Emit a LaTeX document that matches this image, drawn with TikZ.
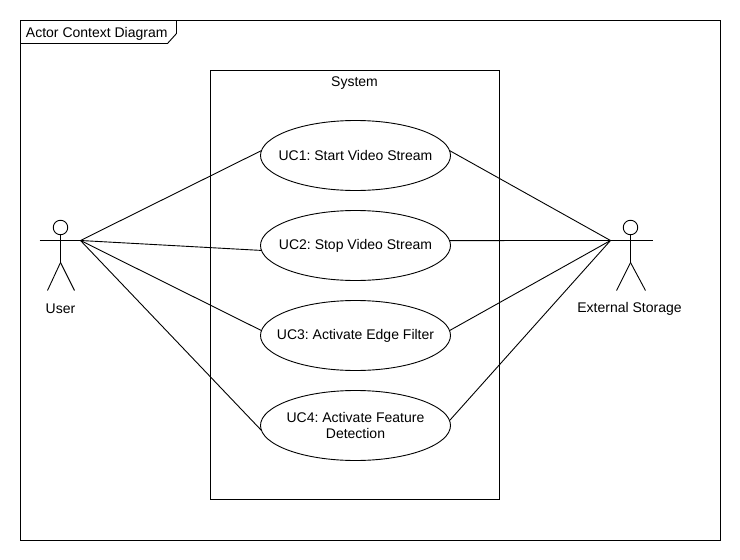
\documentclass[tikz,border=0pt]{standalone}
\usepackage{fontspec}
\setmainfont{Liberation Sans}
\usetikzlibrary{positioning, shapes.geometric}
\frenchspacing

\begin{document}
\begin{tikzpicture}[x=1pt, y=-1pt, line width=0.9pt]
      \tikzstyle{usecase}=[ellipse, draw, inner sep=0pt, outer sep=0pt, minimum width=190pt, minimum height=70pt, align=center, font=\fontsize{14}{16}\selectfont]
      \tikzstyle{boxframe}=[rectangle, draw, inner sep=0pt, outer sep=0pt]
      \tikzstyle{label}=[inner sep=0pt, font=\fontsize{14}{16}\selectfont]
      \tikzstyle{head}=[circle, draw, inner sep=0pt, outer sep=0pt, minimum size=14.5pt]
      \useasboundingbox (-0.5,-0.5) rectangle (739.5,559.5);
      % frame and its tab
      \node[boxframe, minimum width=700pt, minimum height=520pt] (frame) at (370,280) {};
      \node[label, anchor=west] (title) at (25,33) {Actor Context Diagram};
      \draw (frame.north west) ++(156,0) coordinate (tabtop) -- ++(0,13) -- ++(-9,10) -- ++(-147,0);
      % system box
      \node[boxframe, minimum width=289pt, minimum height=429pt] (system) at (354.5,284.5) {};
      \node[label] (systemlabel) at (354,83) {System};
      % use cases
      \node[usecase] (uc1) at (355,155) {\makebox[0pt]{UC1: Start Video Stream}};
      \node[usecase, below=20pt of uc1] (uc2) {\makebox[0pt]{UC2: Stop Video Stream}};
      \node[usecase, below=20pt of uc2] (uc3) {\makebox[0pt]{UC3: Activate Edge Filter}};
      \node[usecase, below=20pt of uc3] (uc4) {\makebox[0pt]{UC4: Activate Feature}\\\makebox[0pt]{Detection}};
      % user
      \node[head] (userhead) at (60,227) {};
      \coordinate (userhand) at (80,240);
      \draw (39,240) -- (userhand);
      \draw (userhead) -- ++(0,35) coordinate (userhip) -- ++(-13,28);
      \draw (userhip) -- ++(14,28);
      \node[label] (userlabel) at (60,308) {User};
      % external storage
      \node[head] (storagehead) at (630,227) {};
      \coordinate (storagehand) at (610,240);
      \draw (storagehand) -- (652,240);
      \draw (storagehead) -- ++(0,35) coordinate (storagehip) -- ++(-14,28);
      \draw (storagehip) -- ++(15,28);
      \node[label] (storagelabel) at (629,308) {External Storage};
      % connectors
      \draw (userhand) -- (uc1.177);
      \draw (userhand) -- (uc2.183);
      \draw (userhand) -- (uc3.177);
      \draw (userhand) -- (uc4.183);
      \draw (storagehand) -- (uc1.3);
      \draw (storagehand) -- (uc2.3);
      \draw (storagehand) -- (uc3.3);
      \draw (storagehand) -- (uc4.3);
\end{tikzpicture}
\end{document}
